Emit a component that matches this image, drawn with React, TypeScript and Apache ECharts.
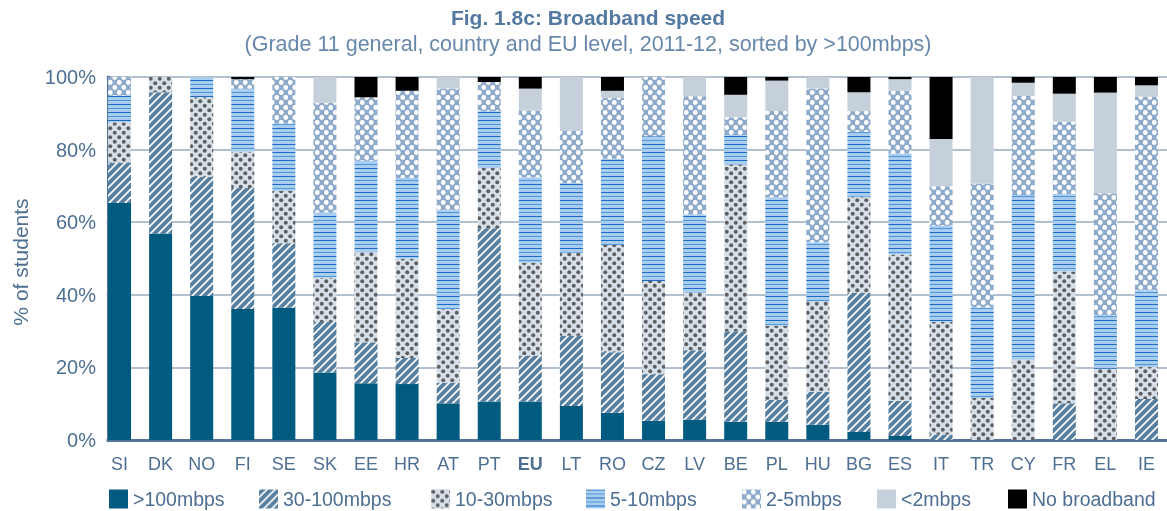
import React, { useEffect, useRef } from 'react';
import * as echarts from 'echarts';

const countries = ['SI','DK','NO','FI','SE','SK','EE','HR','AT','PT','EU','LT','RO','CZ','LV','BE','PL','HU','BG','ES','IT','TR','CY','FR','EL','IE'];
const over100 = [65.3,56.9,39.7,36.1,36.4,18.6,15.6,15.4,10.1,10.6,10.6,9.4,7.5,5.3,5.6,5.0,5.0,4.2,2.2,1.1,0,0,0,0,0,0];
const s30to100 = [11.1,38.9,32.8,33.3,17.8,13.9,11.3,7.2,5.7,47.7,12.7,19.3,16.7,12.8,19.1,24.9,6.1,9.1,38.4,9.7,1.5,0,0,10.1,0,11.3];
const s10to30 = [11.1,4.2,21.9,10.0,14.4,12.2,24.8,27.3,20.2,16.6,25.5,22.9,29.5,25.7,15.9,46.0,20.4,24.8,26.4,40.3,31.1,11.6,22.1,36.3,19.6,8.8];
const s5to10 = [7.4,0,5.6,17.4,18.6,18.0,25.2,22.3,27.3,15.7,23.6,19.2,23.8,39.9,21.5,8.1,35.4,16.4,17.9,27.8,26.4,24.9,45.4,21.4,14.8,21.1];
const s2to5 = [5.1,0,0,2.6,12.8,30.2,17.5,24.0,33.5,8.0,18.4,14.3,16.7,16.3,32.6,4.9,23.7,42.3,5.7,17.3,10.9,34.1,27.3,19.9,33.6,53.4];
const under2 = [0,0,0,0,0,7.1,0,0,3.2,0,6.0,14.9,2.0,0,5.3,6.2,8.4,3.2,5.2,3.2,13.0,29.4,3.6,7.7,27.7,3.1];
const noBroadband = [0,0,0,0.6,0,0,5.6,3.8,0,1.4,3.2,0,3.8,0,0,4.9,1.0,0,4.2,0.6,17.1,0,1.6,4.6,4.3,2.3];
const seriesNames = ['>100mbps','30-100mbps','10-30mbps','5-10mbps','2-5mbps','<2mbps','No broadband'];

const titleText = 'Fig. 1.8c: Broadband speed';
const subtitleText = '(Grade 11 general, country and EU level, 2011-12, sorted by >100mbps)';
const yName = '% of students';

const FONT = '"Liberation Sans", Arial, sans-serif';
const LABEL = '#4e6f93';
const legendLefts = [109, 259, 431, 586, 742, 877, 1008];

function canvas(w: number, h: number) {
  const c = document.createElement('canvas');
  c.width = w; c.height = h;
  return c;
}

function stripePattern() {
  const c = canvas(8, 8);
  const ctx = c.getContext('2d')!;
  ctx.fillStyle = '#577f9f';
  ctx.fillRect(0, 0, 8, 8);
  ctx.strokeStyle = '#ffffff';
  ctx.lineWidth = 1.6;
  ctx.lineCap = 'square';
  const seg = (a: number, b: number, c2: number, d: number) => { ctx.beginPath(); ctx.moveTo(a, b); ctx.lineTo(c2, d); ctx.stroke(); };
  seg(-1, 9, 9, -1);
  seg(-3, 3, 3, -3);
  seg(5, 11, 11, 5);
  return { image: c, repeat: 'repeat' };
}

function dotPattern(bg: string, fg: string, w: number, h: number, r: number) {
  const c = canvas(w, h);
  const ctx = c.getContext('2d')!;
  ctx.fillStyle = bg;
  ctx.fillRect(0, 0, w, h);
  ctx.fillStyle = fg;
  const dot = (x: number, y: number) => { ctx.beginPath(); ctx.arc(x, y, r, 0, Math.PI * 2); ctx.fill(); };
  dot(w / 4, h / 4);
  dot(w * 3 / 4, h * 3 / 4);
  return { image: c, repeat: 'repeat' };
}

function linePattern() {
  const c = canvas(8, 8);
  const ctx = c.getContext('2d')!;
  ctx.fillStyle = '#a9cdee';
  ctx.fillRect(0, 0, 8, 8);
  ctx.fillStyle = '#1a6cc4';
  ctx.fillRect(0, 0, 8, 1);
  ctx.fillStyle = '#4f96dc';
  ctx.fillRect(0, 4, 8, 1);
  return { image: c, repeat: 'repeat' };
}

export default function App() {
  const ref = useRef<HTMLDivElement>(null);
  useEffect(() => {
    if (!ref.current) return;
    const chart = echarts.init(ref.current, undefined, { renderer: 'svg' });
    const colors: any[] = [
      '#015b80',
      stripePattern(),
      dotPattern('#d7e0e8', '#5e5f62', 9, 9, 2.0),
      linePattern(),
      dotPattern('#8eaaca', '#ffffff', 9, 10, 2.4),
      '#c5d0da',
      '#000000',
    ];
    const datasets = [over100, s30to100, s10to30, s5to10, s2to5, under2, noBroadband];
    chart.setOption({
      animation: false,
      textStyle: { fontFamily: FONT },
      grid: { left: 99, top: 77, width: 1074, height: 363, containLabel: false },
      legend: seriesNames.map((n, i) => ({
        data: [n],
        left: legendLefts[i],
        top: 489,
        padding: 0,
        itemWidth: 19,
        itemHeight: 19,
        icon: 'rect',
        textStyle: { fontSize: 19.5, color: LABEL, fontFamily: FONT },
      })),
      xAxis: {
        type: 'category',
        data: countries,
        axisLine: { lineStyle: { color: '#52749a', width: 3 } },
        axisTick: { show: false },
        axisLabel: {
          interval: 0,
          fontSize: 18,
          color: LABEL,
          margin: 15,
          fontFamily: FONT,
          formatter: (v: string) => (v === 'EU' ? '{b|EU}' : v),
          rich: { b: { fontWeight: 'bold', fontSize: 18, color: LABEL, fontFamily: FONT } },
        },
      },
      yAxis: {
        type: 'value',
        min: 0,
        max: 100,
        interval: 20,
        offset: -9,
        axisLine: { show: true, lineStyle: { color: '#52749a', width: 3 } },
        axisTick: { show: false },
        axisLabel: { formatter: '{value}%', fontSize: 20, color: LABEL, margin: 12, fontFamily: FONT },
        splitLine: { lineStyle: { color: '#98abbf', width: 1.5 } },
      },
      graphic: [
        { type: 'rect', z: 1, shape: { x: 96, y: 70, width: 10.5, height: 375 }, style: { fill: '#ffffff' } },
        { type: 'text', x: 588, y: 17, style: { text: titleText, fontSize: 21, fontWeight: 'bold', fill: '#5479a1', textAlign: 'center', textVerticalAlign: 'middle', fontFamily: FONT } },
        { type: 'text', x: 588, y: 44, style: { text: subtitleText, fontSize: 21.5, fill: '#6888ab', textAlign: 'center', textVerticalAlign: 'middle', fontFamily: FONT } },
        { type: 'text', x: 20, y: 262, rotation: Math.PI / 2, style: { text: yName, fontSize: 21, fill: LABEL, textAlign: 'center', textVerticalAlign: 'middle', fontFamily: FONT } },
      ],
      series: datasets.map((d, i) => ({
        name: seriesNames[i],
        type: 'bar',
        stack: 'total',
        barWidth: 23,
        data: d,
        itemStyle: { color: colors[i] },
        emphasis: { disabled: true },
      })),
    });
    return () => chart.dispose();
  }, []);
  return <div ref={ref} style={{ position: 'fixed', left: 0, top: 0, width: 1167, height: 511 }} />;
}
